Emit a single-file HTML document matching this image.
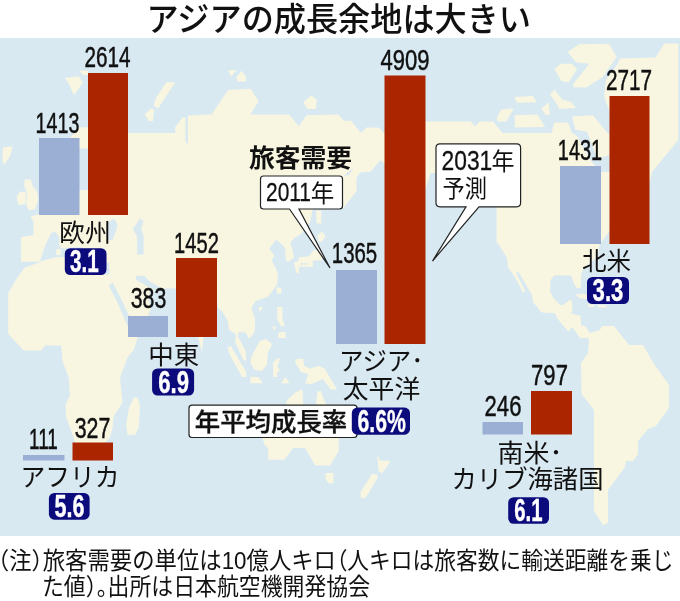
<!DOCTYPE html>
<html lang="ja"><head><meta charset="utf-8"><title>アジアの成長余地は大きい</title>
<style>
html,body{margin:0;padding:0;background:#fff;}
body{width:680px;height:601px;overflow:hidden;font-family:"Liberation Sans","Noto Sans CJK JP",sans-serif;}
svg{display:block;}
.l{fill:#f8f6e1;}
.s{fill:#d9e9f2;}
.jp{font-family:"Noto Sans CJK JP","Liberation Sans",sans-serif;}
.num{font-family:"Liberation Sans",sans-serif;fill:#111;}
.lab{font-family:"Liberation Sans","Noto Sans CJK JP",sans-serif;font-weight:400;fill:#111;}
.rate{font-family:"Liberation Sans",sans-serif;font-weight:bold;fill:#fff;}
</style></head><body>
<svg width="680" height="601" viewBox="0 0 680 601">
<rect x="0" y="0" width="680" height="601" fill="#fff"/>
<text class="jp" x="338.75" y="30.5" font-size="33.5" font-weight="500" text-anchor="middle" fill="#111" textLength="384.5" lengthAdjust="spacingAndGlyphs">アジアの成長余地は大きい</text>
<rect x="0" y="38" width="680" height="498" class="s"/>
<g id="map">
<polygon class="l" points="70,138 78.6,127.4 100,127 100,133.1 175.2,133.1 175.2,126.9 182.8,117.6 185.5,117.6 185.5,141.3 187.9,144.8 187.9,115.6 211.6,114.6 228.1,89.9 250.7,88.8 258.5,101.2 250.4,114.6 289.1,114.6 298.8,126.3 306.6,115.2 338.5,114.6 343.7,120.7 350.9,120.7 361.2,133.1 366.3,127.5 378.7,127.5 384.9,134.1 405,134 405,165 384.5,163.8 380.3,160.3 370.6,171.8 360,172.6 356.5,177.9 356.5,191.2 343.2,208 330,200 312.6,209.4 310,222.5 301,234 294.7,237.8 290.3,242.9 292.9,250.9 293.8,257.9 288.5,261.5 285.9,260.6 285,248.2 282.4,244.7 276.2,239.4 269.1,249.1 274.4,255.3 271.8,260.6 277.9,272.9 277.2,284.4 268,296.8 255.6,300.9 251.5,308.1 255.2,319.4 254.6,331.8 249.4,339 245.7,332.8 239.1,331.8 237.7,335.9 245.7,351.3 246.3,360.6 243.6,360.6 235,342 236,334.2 228.8,329.7 227.8,320.4 222.6,312.2 217.5,307 217,300 203.5,338 202,352 198.8,340 190,300 180,288.5 176,288.5 160,292 150,290 148.5,300 151,308 148,316 140,337 138,336.6 134,349.4 127.5,357.5 120,377.5 122.5,402.5 113.75,416.25 112.5,427.5 110,437.5 105,442.5 100,455 80,455 75,442.5 73.75,437.5 66.25,417.5 65.5,405 70,395 68.75,377.5 62.5,361.25 61.25,345.5 45,345.5 41.25,350.5 23.75,350.5 8.2,334.1 8.2,293 17.4,277.6 24.7,267.4 41.6,261.8 21,261.8 21,237.2 33.5,235 33.5,221.8 30.6,216.6 39,214 39,140"/>
<polygon class="l" points="405,121.4 470.4,121.4 475.2,126.3 479.7,121.4 493.1,121.4 502.4,133.1 551.8,133.1 554,122.4 568,122.4 572,133 577,136 591,161 601,172 612,172 612,228 604.7,237.5 599.5,245 598,256 583.5,269 581.2,274 580.7,287.9 577.1,287.9 574.1,284.3 571.2,275.4 554.3,275.4 550.6,279.9 549.9,290.9 553.5,298.2 560.1,304.9 563.1,304.9 569.7,300 571.9,300.4 572.6,311.5 569.7,312.9 580.7,315.9 581,325 585,326 590,333 600,330 602,326 614,326 629,345 643,345 654,364 669,385 669,408 656,426 648,429 638,441 638,454 633,461 626,461 625,467 608,490 608,523 603,525 594,511 594,410 581.6,394 581,363 588,353 589,340 588,338 580,338 572.5,327 568.5,331.5 560,322 557.2,318.1 555,313.2 541.8,312.6 532.9,301.9 532.2,295.3 530,291.6 518.5,272 516,272.5 525,290.5 523.5,293 514.1,275.9 508.2,267.6 507,258.2 500,246.5 496.5,242 496.5,200 436,173 430.6,173 425.2,190.6 405,190"/>
<polygon class="s" points="40,261.5 44.6,246.8 51.2,232.8 55.6,232 59.3,237.2 59.3,245.3 61.5,248.5 80,247 100,255 106,262 109,263 109.5,274 106,275 90,268 72,258.5 65,257.5 58.5,256.8 48,259.3"/>
<polygon class="s" points="108,222 114.4,218.5 117.5,224.7 115.4,233 112.4,240.1 108,240"/>
<polygon class="s" points="132.9,228.8 140.1,218.5 143.6,221.6 141.2,228.8 143.6,236 143.6,254.6 137.1,254.6 137.1,237.1"/>
<polygon class="s" points="136,275.8 144.3,275.8 149.4,281.3 161.8,288.5 178,288.5 170,296 160,293 147,286 136,280"/>
<polygon class="s" points="108.8,285.5 112.6,282.4 121.2,299 128.5,314.5 140,330 140,338 127.2,325.5 117.8,303"/>
<polygon class="s" points="79,148.5 89,148.5 89,190 79,190"/>
<polygon class="l" points="56.3,249 60.7,249 60.7,255 56.3,255"/>
<polygon class="l" points="3,147.5 12.4,146.5 10.3,155.7 4.1,165 2.5,160.9"/>
<polygon class="l" points="24.7,179.4 30.9,179.4 32.9,186.6 37.1,191.8 38.1,200 35,209.3 28.8,210.3 26.4,205.1 26.8,191.8 24.3,186.6"/>
<polygon class="l" points="16.5,196.9 19.6,191.8 25.7,191.8 25.7,204.1 18.5,205.1"/>
<polygon class="l" points="79,70.5 88,70.5 88,75 83,75"/>
<polygon class="l" points="65,78 78.6,76.2 82.8,82.5 74,95.2 68.9,84"/>
<polygon class="l" points="166.3,82.2 175.2,82.2 158.1,108.4 153.6,105.7 156,98.1"/>
<polygon class="l" points="144.7,114.6 150.9,108.4 154,109.4 152.9,121.4 148.8,120.7"/>
<polygon class="l" points="228.1,70.3 236.3,70.3 231.2,76.5"/>
<polygon class="l" points="241.5,70.7 246,76.5 246,81.6 237.4,81.6 236.3,77.5"/>
<polygon class="l" points="303.1,102.2 311.4,95.4 316.9,100.1 315.9,109 307.6,109"/>
<polygon class="l" points="496.6,118.1 501.3,109.4 513.7,108.4 506.5,121.4 497.8,121.4"/>
<polygon class="l" points="514.3,97.1 532.8,96 536.9,102.2 516.8,102.8"/>
<polygon class="l" points="514.7,115.2 537.4,114.6 545.2,126.9 514.7,127.5"/>
<polygon class="l" points="541.5,108.4 548.7,102.2 549.7,114.6 546,115.2"/>
<polygon class="l" points="549.9,94.6 554.4,89.5 562.6,99.8 570.9,101.8 576,108 559.6,109 555.4,101.8"/>
<polygon class="l" points="567.8,52 579.1,44.2 609,43.8 616.6,56.9 602.8,77.1 586.3,87.4 574,87.4 572.9,84.3 589.4,63.7 576,62.3"/>
<polygon class="l" points="554.4,68.9 560.6,63.7 571.9,63.7 577.1,68.9 568.8,82.3 561.6,81.2"/>
<polygon class="l" points="572.2,116.5 592.9,115.3 609.4,135.3 609.4,155 603,157 597,158 587,131.8 575.3,129.4"/>
<polygon class="l" points="617.5,64 620,58.6 655.5,57.4 664.3,43.5 678.3,43.5 678.3,140 652,172 649,185 640,185 615,140 609,110 604,96 606,80"/>
<polygon class="l" points="575.6,294.6 583.7,293.5 587.4,295.3 586.6,299 580.7,298.5 577.8,296.8"/>
<polygon class="l" points="588.1,304.1 594.7,304.9 594,307.1 588.8,307.1"/>
<polygon class="l" points="597.6,304.9 606.5,305.6 606.5,307.4 598.4,307.4"/>
<polygon class="l" points="316,210.5 321.3,210.5 321.3,223.5 316.6,223.5"/>
<polygon class="l" points="317.6,235 322.1,231.5 325.6,236.8 321.2,242.1 318.5,241.2"/>
<polygon class="l" points="313.9,250 320,250.6 322,256 322,260.3 312.8,260.8 312.8,266.8 298.8,266.8 298.8,274.2 296,272 294,262.6 298.6,261 298.6,257.3 308.6,256.6"/>
<polygon class="l" points="276.2,287.5 281.3,287.5 281.3,293.7 277.2,293.7"/>
<polygon class="l" points="258.7,307.1 262.8,307.1 259.7,312.2"/>
<polygon class="l" points="277.2,307.1 282.4,307.1 282.4,319.4 284.8,325.6 281.3,326.6 277.2,319.4"/>
<polygon class="l" points="272.1,326.6 276.2,326.6 274.1,330.7"/>
<polygon class="l" points="278.2,332.8 285.4,331.8 286.1,337.9 278.2,337.9"/>
<polygon class="l" points="227.8,347.2 230.9,346.2 245.7,370.9 246.3,377.1 242.2,377.1 232.9,360.6 228.8,352.4"/>
<polygon class="l" points="259.7,341 265.9,339 272.1,344.1 267.9,352.4 266.9,364.7 261.8,370.9 254.6,369.9 250.4,362.6 251.5,356.5"/>
<polygon class="l" points="250.4,377.1 258.7,377.1 262.8,383.2 250.4,383.2"/>
<polygon class="l" points="281.3,383.2 285.4,377.1 289.6,383.2"/>
<polygon class="l" points="273.1,362.6 277.2,358.5 280.3,358.5 277.2,366.8 280.3,370.9 277.2,371.9 277.2,377.1 273.1,377.1"/>
<polygon class="l" points="294.9,359.6 303.1,358.5 304.1,365.7 310.3,368.8 318.5,365.7 324.7,368.8 337.1,389.4 330.9,389.4 322.6,379.1 311.3,384.3 305.2,383.2 308.2,374 301,371.9 295.9,363.7"/>
<polygon class="l" points="285.6,410 286.6,400.7 295.9,391.9 302.5,389.4 303.7,410 315.4,410 317.5,391.5 320.6,391.1 326.4,405.5 341.5,410 338.8,438 338.8,450.9 330,465.6 315.3,465.6 305,448 293.2,448 284.4,459.7 268.2,459.7 268.2,448 264.7,445 262.4,438 262.4,410"/>
<polygon class="l" points="325.6,473 333.5,473 333.5,483.2 328.5,483.2 325.6,478.8"/>
<polygon class="l" points="377.3,454.5 380,460.5 390.6,461 382,473.5 378.5,471"/>
<polygon class="l" points="372,474 377.3,474.5 377.3,478.6 365.7,497.5 361,498.3 360.5,492"/>
<polygon class="l" points="133.75,397.5 137.5,397.5 140,405 138.75,427.5 135,435 127.5,435 126.25,425 128.75,408.75"/>
<polygon class="s" points="343,176.5 353.8,167.4 349,175"/>
<polygon class="s" points="300.5,263 303.5,263 302,266"/>
<polygon class="s" points="304.5,263 307.5,263 306,266"/>
</g>
<g id="bars">
<rect x="39" y="138" width="40.5" height="77" fill="#9aafd3"/>
<rect x="88" y="73" width="40" height="142" fill="#ab2600"/>
<rect x="128" y="316" width="40" height="21" fill="#9aafd3"/>
<rect x="176" y="258" width="41" height="79" fill="#ab2600"/>
<rect x="336" y="270" width="41" height="74" fill="#9aafd3"/>
<rect x="384.5" y="75.5" width="41" height="268.5" fill="#ab2600"/>
<rect x="560" y="166" width="41" height="78" fill="#9aafd3"/>
<rect x="609.5" y="96" width="40" height="148" fill="#ab2600"/>
<rect x="23" y="455" width="41.5" height="5.5" fill="#9aafd3"/>
<rect x="72.5" y="442.5" width="40.5" height="18" fill="#ab2600"/>
<rect x="482.5" y="422" width="40.5" height="12.5" fill="#9aafd3"/>
<rect x="531" y="391" width="41" height="43.5" fill="#ab2600"/>
</g>

<g id="nums" class="num" font-size="29.6" text-anchor="middle" stroke="#111" stroke-width="0.5">
<text transform="translate(107.5,67) scale(0.7,1)">2614</text>
<text transform="translate(57.5,133) scale(0.665,1)">1413</text>
<text transform="translate(196.5,252.5) scale(0.68,1)">1452</text>
<text transform="translate(148.5,308) scale(0.72,1)">383</text>
<text transform="translate(354.5,263) scale(0.69,1)">1365</text>
<text transform="translate(405,70) scale(0.745,1)">4909</text>
<text transform="translate(580,160) scale(0.675,1)">1431</text>
<text transform="translate(629,90) scale(0.7,1)">2717</text>
<text transform="translate(43.5,449) scale(0.64,1)">111</text>
<text transform="translate(92.5,437.5) scale(0.72,1)">327</text>
<text transform="translate(503,416) scale(0.745,1)">246</text>
<text transform="translate(549.5,385) scale(0.745,1)">797</text>
</g>
<g id="labs" class="lab" font-size="25.5" text-anchor="middle">
<text x="85" y="241.500" textLength="52" lengthAdjust="spacingAndGlyphs">欧州</text>
<text x="173.7" y="363.5" textLength="51" lengthAdjust="spacingAndGlyphs">中東</text>
<text x="381.2" y="369.8" textLength="84.5" lengthAdjust="spacingAndGlyphs">アジア･</text>
<text x="381.5" y="397.5" textLength="77.5" lengthAdjust="spacingAndGlyphs">太平洋</text>
<text x="606.5" y="269.5" textLength="49" lengthAdjust="spacingAndGlyphs">北米</text>
<text x="70" y="486.3" textLength="99" lengthAdjust="spacingAndGlyphs">アフリカ</text>
<text x="530" y="461.8" textLength="65" lengthAdjust="spacingAndGlyphs">南米･</text>
<text x="527.5" y="488" textLength="152" lengthAdjust="spacingAndGlyphs">カリブ海諸国</text>
</g>
<g id="badges">
<rect x="64.8" y="248.2" width="41.7" height="26.8" rx="5.500" fill="#0b0b7c"/>
<rect x="152.1" y="368.5" width="42" height="27" rx="5.500" fill="#0b0b7c"/>
<rect x="587" y="277" width="42" height="27" rx="5.500" fill="#0b0b7c"/>
<rect x="48.900" y="493" width="40.7" height="26.7" rx="5.500" fill="#0b0b7c"/>
<rect x="508.200" y="497.2" width="40.8" height="26.6" rx="5.500" fill="#0b0b7c"/>
<g class="rate" font-size="31" text-anchor="middle" stroke="#fff" stroke-width="0.4">
<text transform="translate(84.3,271.9) scale(0.666,1)">3.1</text>
<text transform="translate(173.7,392.9) scale(0.714,1)">6.9</text>
<text transform="translate(608,301.4) scale(0.714,1)">3.3</text>
<text transform="translate(69.4,517.4) scale(0.695,1)">5.6</text>
<text transform="translate(528.4,520.9) scale(0.657,1)">6.1</text>
</g>
</g>
<g id="callouts">
<text class="jp" x="300.5" y="166.500" font-size="24.5" font-weight="700" text-anchor="middle" fill="#111" textLength="103" lengthAdjust="spacingAndGlyphs">旅客需要</text>
<path d="M263.5,176 H339.5 Q342.5,176 342.5,179 V206 Q342.5,209 339.5,209 H299 L330,268 L289.5,209 H263.5 Q260.5,209 260.5,206 V179 Q260.5,176 263.5,176 Z" fill="#fff" stroke="#222" stroke-width="1.2" stroke-linejoin="miter"/>
<text class="num" font-size="26.5" text-anchor="middle" transform="translate(288.5,201.3) scale(0.79,1)" stroke="#111" stroke-width="0.3">2011</text>
<text class="lab" x="322.6" y="201.5" font-size="23.5" text-anchor="middle" textLength="23.5" lengthAdjust="spacingAndGlyphs">年</text>
<path d="M440,143.8 H516.6 Q520.6,143.8 520.6,147.8 V202.8 Q520.6,206.8 516.6,206.8 H479 L432.5,261 L466,206.8 H440 Q436,206.8 436,202.8 V147.8 Q436,143.8 440,143.8 Z" fill="#fff" stroke="#222" stroke-width="1.2"/>
<text class="num" font-size="28" text-anchor="middle" transform="translate(466.9,169.5) scale(0.815,1)" stroke="#111" stroke-width="0.3">2031</text>
<text class="lab" x="503" y="170" font-size="23.5" text-anchor="middle" textLength="23" lengthAdjust="spacingAndGlyphs">年</text>
<text class="lab" x="464.7" y="197" font-size="23.5" text-anchor="middle" textLength="44.5" lengthAdjust="spacingAndGlyphs">予測</text>
<rect x="189" y="405.2" width="168" height="32.3" rx="3" fill="#fff" stroke="#222" stroke-width="1.2"/>
<text class="jp" x="271" y="431" font-size="24.5" font-weight="500" text-anchor="middle" fill="#111" stroke="#111" stroke-width="0.35" textLength="152.5" lengthAdjust="spacingAndGlyphs">年平均成長率</text>
<rect x="351.8" y="407.6" width="58.2" height="27.1" rx="5.5" fill="#0b0b7c"/>
<text class="rate" font-size="31" text-anchor="middle" stroke="#fff" stroke-width="0.4" transform="translate(381.7,432) scale(0.685,1)">6.6%</text>
</g>
<g id="foot" class="lab" font-size="23.6" style="font-feature-settings:'halt'">
<text x="-2" y="569" textLength="338" lengthAdjust="spacingAndGlyphs">（注）旅客需要の単位は10億人キロ</text>
<text x="336.5" y="569" textLength="337" lengthAdjust="spacingAndGlyphs">（人キロは旅客数に輸送距離を乗じ</text>
<text x="42" y="594.5" textLength="328" lengthAdjust="spacingAndGlyphs">た値）。出所は日本航空機開発協会</text>
</g>
</svg>
</body></html>
